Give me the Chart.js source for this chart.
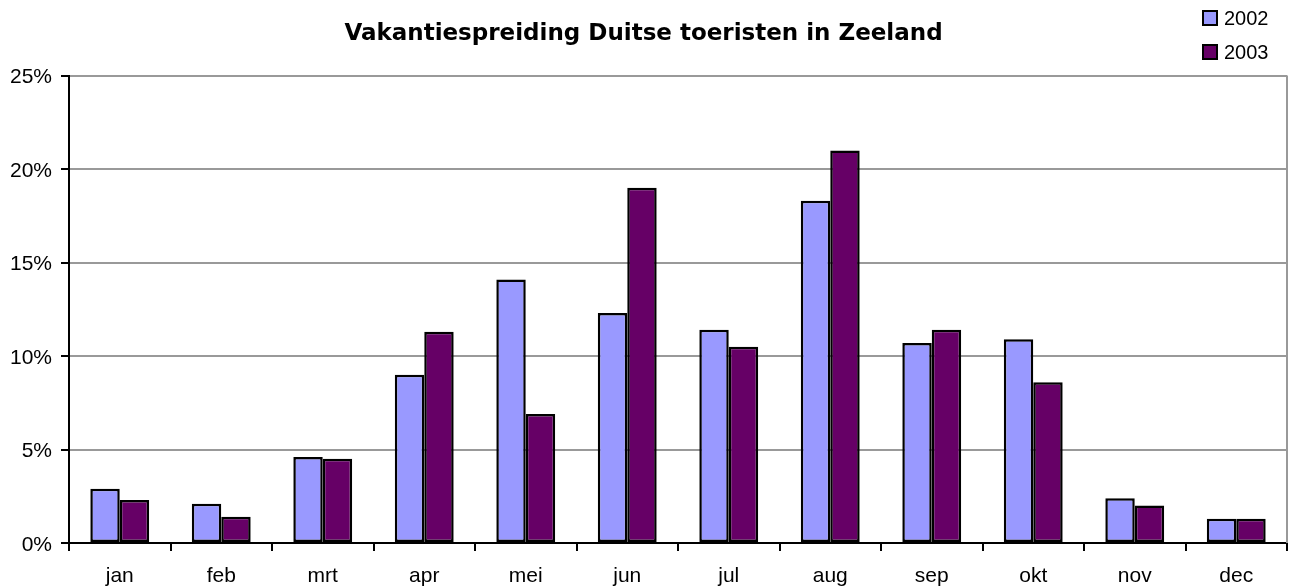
<!DOCTYPE html>
<html lang="nl">
<head>
<meta charset="utf-8">
<title>Vakantiespreiding Duitse toeristen in Zeeland</title>
<script src="https://cdn.jsdelivr.net/npm/chart.js@4/dist/chart.umd.min.js"></script>
<style>
  html, body { margin: 0; padding: 0; background: #fff; }
  #wrap { position: relative; width: 1289px; height: 587px; }
  #legend { position: absolute; left: 1202px; top: 1px; font: 20px "Liberation Sans", Arial, sans-serif; color: #000; }
  #legend .item { display: flex; align-items: center; height: 34px; }
  #legend .box { width: 12px; height: 12px; border: 2px solid #000; margin-right: 6px; }
</style>
</head>
<body>
<div id="wrap">
  <canvas id="viz" width="1289" height="587"></canvas>
  <div id="legend"></div>
</div>
<script>
// months and share of holidays per month (%)
const months = ['jan','feb','mrt','apr','mei','jun','jul','aug','sep','okt','nov','dec'];
const share2002 = [2.9, 2.1, 4.6, 9.0, 14.1, 12.3, 11.4, 18.3, 10.7, 10.9, 2.4, 1.3];
const share2003 = [2.3, 1.4, 4.5, 11.3, 6.9, 19.0, 10.5, 21.0, 11.4, 8.6, 2.0, 1.3];
const yTicks = [0, 5, 10, 15, 20, 25];

const FONT = '"Liberation Sans", Arial, sans-serif';

// gray border on the right side of the plot area
const plotBorder = {
  id: 'plotBorder',
  afterDraw(chart) {
    const { ctx, chartArea: a } = chart;
    ctx.save();
    ctx.strokeStyle = '#999';
    ctx.lineWidth = 2;
    ctx.beginPath();
    ctx.moveTo(a.right, a.top);
    ctx.lineTo(a.right, a.bottom);
    ctx.stroke();
    ctx.restore();
  }
};

const series = [
  { label: '2002', data: share2002, backgroundColor: '#9999ff' },
  { label: '2003', data: share2003, backgroundColor: '#660066' }
];

const chart = new Chart(document.getElementById('viz').getContext('2d'), {
  type: 'bar',
  data: {
    labels: months,
    datasets: series.map(s => ({
      ...s,
      borderColor: '#000',
      borderWidth: 2.5,
      borderSkipped: false,
      categoryPercentage: 0.58,
      barPercentage: 1.0
    }))
  },
  options: {
    responsive: false,
    animation: false,
    layout: { padding: { left: 0, right: 2, top: 0, bottom: 0 } },
    plugins: {
      legend: { display: false },
      tooltip: { enabled: false },
      title: {
        display: true,
        text: 'Vakantiespreiding Duitse toeristen in Zeeland',
        color: '#000',
        font: { family: '"DejaVu Sans", Verdana, sans-serif', size: 23, weight: 'bold' },
        padding: { top: 20, bottom: 28 }
      }
    },
    scales: {
      x: {
        grid: { display: true, offset: true, drawOnChartArea: false, tickLength: 8, color: '#000', lineWidth: 2 },
        border: { color: '#000', width: 2 },
        ticks: { color: '#000', font: { family: FONT, size: 21 }, padding: 13 },
        afterFit: s => { s.height = 44; }
      },
      y: {
        min: 0,
        max: 25,
        afterBuildTicks: s => { s.ticks = yTicks.map(v => ({ value: v })); },
        grid: { color: '#999', lineWidth: 2, tickLength: 8, tickColor: '#000' },
        border: { color: '#000', width: 2 },
        ticks: { color: '#000', font: { family: FONT, size: 21 }, padding: 9, labelOffset: 2, callback: v => v + '%' },
        afterFit: s => { s.width = 69; }
      }
    }
  },
  plugins: [plotBorder]
});

// legend in the top right corner
document.getElementById('legend').innerHTML = series.map(s => `
  <div class="item"><span class="box" style="background:${s.backgroundColor}"></span>${s.label}</div>
`).join('');
</script>
</body>
</html>
